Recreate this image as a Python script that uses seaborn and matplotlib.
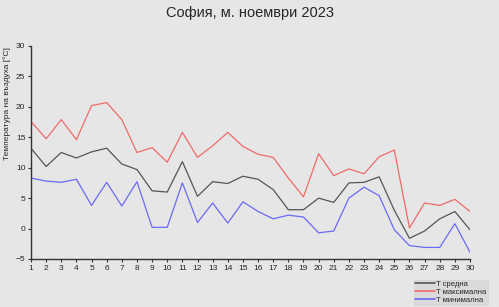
import matplotlib
matplotlib.use("Agg")
import matplotlib.pyplot as plt
import seaborn as sns
import pandas as pd

days = list(range(1, 31))
t_mean = [13.2, 10.2, 12.5, 11.6, 12.6, 13.2, 10.6, 9.7, 6.2, 6.0,
          11.0, 5.3, 7.7, 7.4, 8.6, 8.1, 6.4, 3.1, 3.1, 5.0,
          4.3, 7.5, 7.6, 8.5, 3.0, -1.6, -0.4, 1.6, 2.8, -0.2]
t_max = [17.6, 14.75, 17.9, 14.6, 20.2, 20.7, 17.9, 12.5, 13.3, 10.9,
         15.8, 11.7, 13.6, 15.8, 13.5, 12.2, 11.7, 8.3, 5.2, 12.3,
         8.7, 9.8, 9.0, 11.8, 12.9, 0.1, 4.2, 3.8, 4.8, 2.8]
t_min = [8.3, 7.8, 7.6, 8.1, 3.8, 7.6, 3.7, 7.7, 0.2, 0.2,
         7.5, 1.0, 4.2, 0.9, 4.4, 2.8, 1.6, 2.2, 1.9, -0.7,
         -0.4, 5.0, 6.8, 5.4, -0.2, -2.8, -3.1, -3.1, 0.8, -3.9]
series_names = ["T средна", "T максимална", "T минимална"]
colors = ["#555555", "#f06a6a", "#6a6af5"]

df = pd.DataFrame({"day": days * 3,
                   "val": t_mean + t_max + t_min,
                   "series": [series_names[0]] * 30 + [series_names[1]] * 30 + [series_names[2]] * 30})

sns.set_style("white")
plt.rcParams['font.family'] = ['Liberation Sans', 'DejaVu Sans']
bg = "#e6e6e6"
fig = plt.figure(figsize=(4.99, 3.07), dpi=100, facecolor=bg)
ax = fig.add_axes([0.0621, 0.1564, 0.8798, 0.6938], facecolor=bg)

sns.lineplot(data=df, x="day", y="val", hue="series", palette=colors,
             hue_order=series_names, linewidth=0.9, ax=ax, legend=False)

ax.set_xlim(1, 30)
ax.set_ylim(-5, 30)
ax.set_xticks(days)
ax.set_xticklabels([str(d) for d in days])
ax.set_yticks(range(-5, 31, 5))
ax.tick_params(axis='both', labelsize=6, length=2.5, width=0.8, color="#333333",
               pad=1.5, direction='out', bottom=True, left=True)
for s in ["top", "right"]:
    ax.spines[s].set_visible(False)
for s in ["left", "bottom"]:
    ax.spines[s].set_color("#333333")
    ax.spines[s].set_linewidth(1.0)
ax.set_xlabel("")
ax.set_ylabel("Температура на въздуха [°C]", fontsize=6)
ax.yaxis.set_label_coords(-0.046, 0.73)
fig.text(0.5, 0.958, "София, м. ноември 2023", ha="center", va="center", fontsize=10.5)

from matplotlib.lines import Line2D
handles = [Line2D([0], [0], color=c, lw=1.2) for c in colors]
leg = fig.legend(handles, series_names, loc="lower right", bbox_to_anchor=(0.985, -0.005),
                 fontsize=5.5, frameon=True, handlelength=2.6, handletextpad=0.2,
                 borderpad=0.15, labelspacing=0.05, fancybox=False)
leg.get_frame().set_facecolor("#d8d8d8")
leg.get_frame().set_edgecolor("#d0d0d0")
leg.get_frame().set_linewidth(0.5)

fig.savefig("out.png", dpi=100, facecolor=bg)
